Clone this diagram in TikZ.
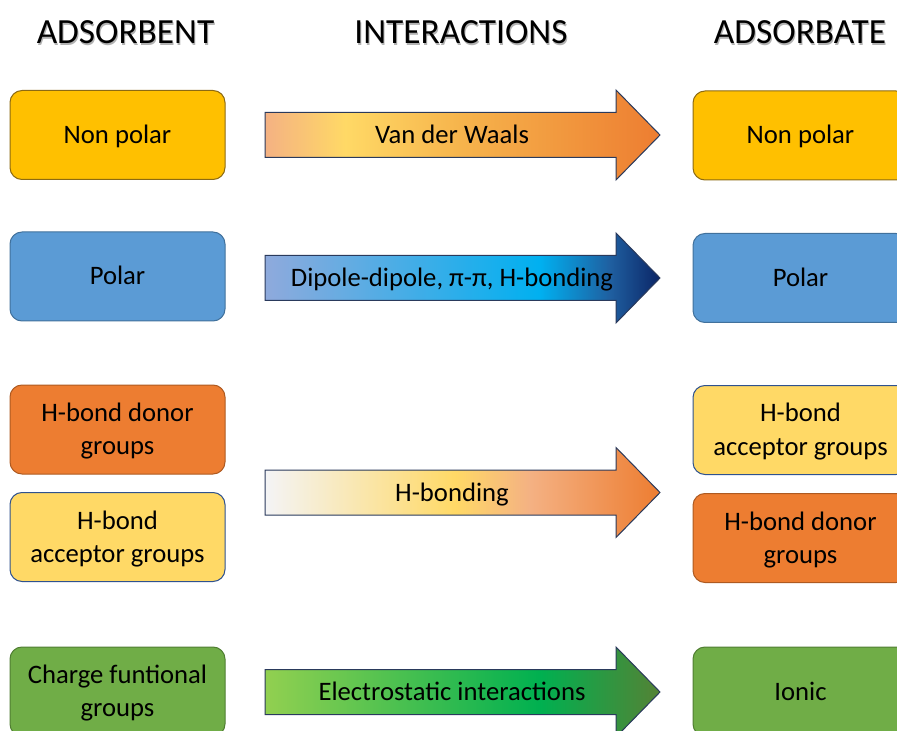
\documentclass[tikz,border=0pt]{standalone}
\usepackage{fontspec}
\setmainfont{Carlito}
\definecolor{gold}{HTML}{FFC000}
\definecolor{goldline}{HTML}{8C6A12}
\definecolor{blue1}{HTML}{5B9BD5}
\definecolor{blueline}{HTML}{41719C}
\definecolor{orng}{HTML}{ED7D31}
\definecolor{orngline}{HTML}{AE5A21}
\definecolor{ylw}{HTML}{FFD966}
\definecolor{ylwline}{HTML}{2F528F}
\definecolor{grn}{HTML}{70AD47}
\definecolor{grnline}{HTML}{507E32}
\definecolor{arrowline}{HTML}{2A3A5C}
\definecolor{peach}{HTML}{F4B183}
\definecolor{midorng}{HTML}{F6B44C}
\definecolor{ltblue}{HTML}{8FAADC}
\definecolor{cyanb}{HTML}{00B0F0}
\definecolor{medblue}{HTML}{1F5FA0}
\definecolor{navy}{HTML}{0B2566}
\definecolor{paleg}{HTML}{F4F4F6}
\definecolor{ltgreen}{HTML}{92D050}
\definecolor{dgreen}{HTML}{00B050}
\definecolor{olive}{HTML}{548235}
\pgfdeclarehorizontalshading{vdw}{100bp}{color(0bp)=(peach); color(25bp)=(peach); color(35.13bp)=(ylw); color(49.68bp)=(midorng); color(75bp)=(orng); color(100bp)=(orng)}
\pgfdeclarehorizontalshading{dip}{100bp}{color(0bp)=(ltblue); color(25bp)=(ltblue); color(59.81bp)=(cyanb); color(68.67bp)=(medblue); color(75bp)=(navy); color(100bp)=(navy)}
\pgfdeclarehorizontalshading{hbd}{100bp}{color(0bp)=(paleg); color(25bp)=(paleg); color(49.05bp)=(ylw); color(58.54bp)=(peach); color(75bp)=(orng); color(100bp)=(orng)}
\pgfdeclarehorizontalshading{elec}{100bp}{color(0bp)=(ltgreen); color(25bp)=(ltgreen); color(59.81bp)=(dgreen); color(75bp)=(olive); color(100bp)=(olive)}
\newcommand\bigarrow[2]{%
  \shade[shading=#2, draw=arrowline, line width=0.75pt, line join=miter, shift={(0,#1)}]
    (265,-22.5) -- (616,-22.5) -- (616,-45) -- (660,0) -- (616,45) -- (616,22.5) -- (265,22.5) -- cycle;}
\begin{document}
\begin{tikzpicture}[x=0.75pt,y=-0.75pt,
  box/.style={rectangle, rounded corners=9pt, minimum width=161.25pt, minimum height=66.75pt,
    inner sep=0pt, align=center, text height=14pt, text depth=1.25pt,
    font=\fontsize{20}{24.75}\selectfont, line width=0.75pt},
  boxtwo/.style={box, text height=38.75pt},
  hdr/.style={inner sep=0pt, font=\fontsize{26.5}{30}\selectfont},
  hshadow/.style={hdr, text=black!30},
  atext/.style={inner sep=0pt, text height=14pt, text depth=1.25pt, font=\fontsize{20}{24}\selectfont}]
\useasboundingbox (0,0) rectangle (897,731);
\clip (0,0) rectangle (897,731);
% headers (with soft shadow)
\node[hshadow] (h1s) at (126.5,34) {ADSORBENT};
\node[hshadow] (h2s) at (462,34) {INTERACTIONS};
\node[hshadow] (h3s) at (801,34) {ADSORBATE};
\node[hdr] (h1) at (125.5,32.5) {ADSORBENT};
\node[hdr] (h2) at (461,32.5) {INTERACTIONS};
\node[hdr] (h3) at (800,32.5) {ADSORBATE};
% arrows
\bigarrow{135}{vdw}
\bigarrow{278}{dip}
\bigarrow{492.5}{hbd}
\bigarrow{692}{elec}
\node[atext] (t1) at (452,135) {Van der Waals};
\node[atext] (t2) at (452,278) {Dipole-dipole, π-π, H-bonding};
\node[atext] (t3) at (452,492.5) {H-bonding};
\node[atext] (t4) at (452,692) {Electrostatic interactions};
% left boxes
\node[box, fill=gold, draw=goldline] (l1) at (117.5,135) {Non polar};
\node[box, fill=blue1, draw=blueline] (l2) at (117.5,276.5) {Polar};
\node[boxtwo, fill=orng, draw=orngline] (l3) at (117.5,429.5) {H-bond donor\\groups};
\node[boxtwo, fill=ylw, draw=ylwline] (l4) at (117.5,537) {H-bond\\acceptor groups};
\node[boxtwo, fill=grn, draw=grnline] (l5) at (117.5,691.5) {Charge funtional\\groups};
% right boxes
\node[box, fill=gold, draw=goldline] (r1) at (800.5,135.5) {Non polar};
\node[box, fill=blue1, draw=blueline] (r2) at (800.5,278) {Polar};
\node[boxtwo, fill=ylw, draw=ylwline] (r3) at (800.5,430) {H-bond\\acceptor groups};
\node[boxtwo, fill=orng, draw=orngline] (r4) at (800.5,538) {H-bond donor\\groups};
\node[box, fill=grn, draw=grnline] (r5) at (800.5,691.5) {Ionic};
\end{tikzpicture}
\end{document}
